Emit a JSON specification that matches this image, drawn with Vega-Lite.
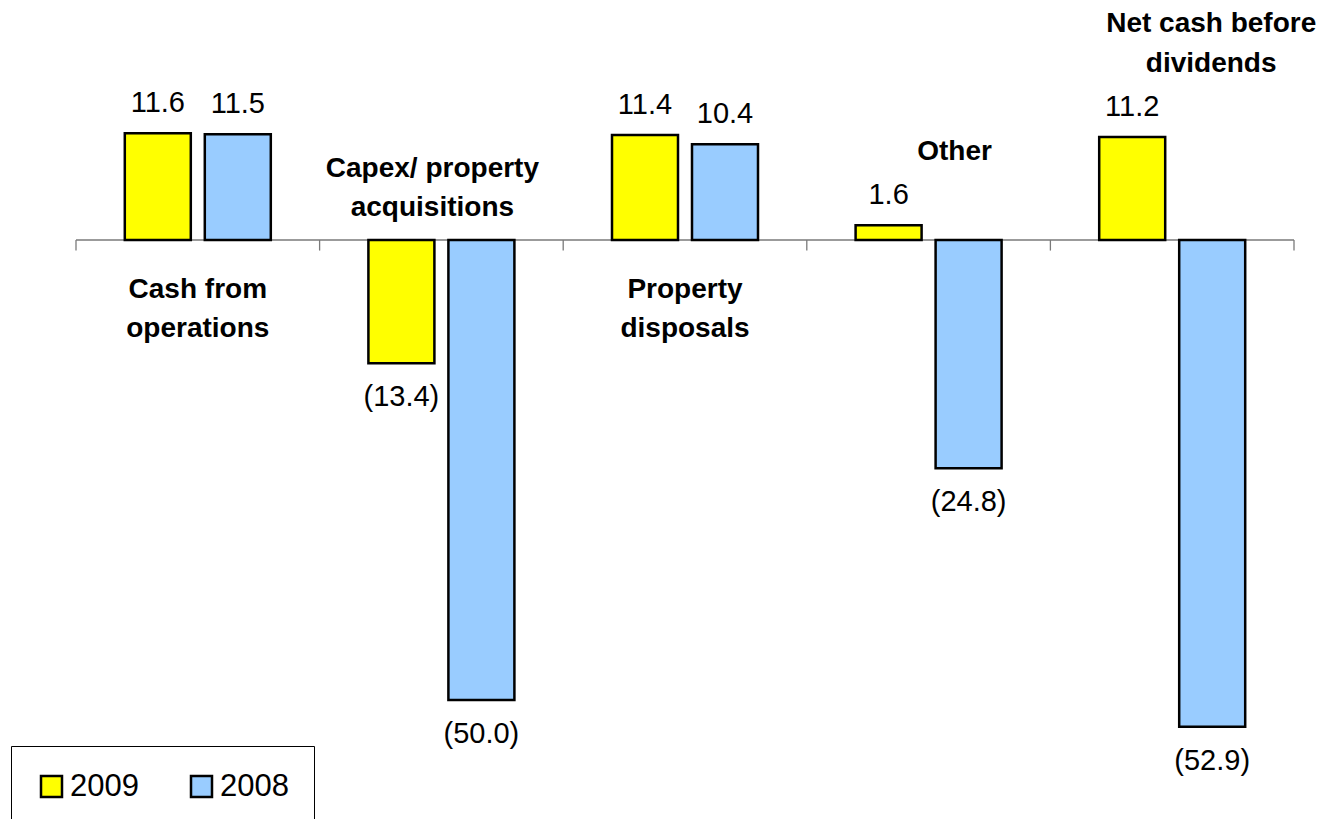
{
  "$schema": "https://vega.github.io/schema/vega-lite/v6.json",
  "width": 1218,
  "height": 782,
  "autosize": "none",
  "padding": {"left": 76, "top": 10, "right": 34, "bottom": 27},
  "background": "white",
  "config": {
    "view": {"stroke": null},
    "text": {"font": "Liberation Sans", "color": "black"},
    "legend": {"labelFont": "Liberation Sans"}
  },
  "datasets": {
    "bars": [
      {"category": "Cash from operations", "year": "2009", "value": 11.6},
      {"category": "Cash from operations", "year": "2008", "value": 11.5},
      {"category": "Capex/ property acquisitions", "year": "2009", "value": -13.4},
      {"category": "Capex/ property acquisitions", "year": "2008", "value": -50.0},
      {"category": "Property disposals", "year": "2009", "value": 11.4},
      {"category": "Property disposals", "year": "2008", "value": 10.4},
      {"category": "Other", "year": "2009", "value": 1.6},
      {"category": "Other", "year": "2008", "value": -24.8},
      {"category": "Net cash before dividends", "year": "2009", "value": 11.2},
      {"category": "Net cash before dividends", "year": "2008", "value": -52.9}
    ],
    "cats": [
      {"category": "Cash from operations", "label": "Cash from\noperations"},
      {"category": "Capex/ property acquisitions", "label": "Capex/ property\nacquisitions"},
      {"category": "Property disposals", "label": "Property\ndisposals"},
      {"category": "Other", "label": "Other"},
      {"category": "Net cash before dividends", "label": "Net cash before\ndividends"}
    ]
  },
  "layer": [
    {
      "data": {"values": [{"zero": 0}]},
      "mark": {"type": "rule", "color": "#7a7a7a", "strokeWidth": 1.3},
      "encoding": {
        "y": {"field": "zero", "type": "quantitative", "scale": {"domain": [-60, 25], "nice": false, "zero": false}, "axis": null}
      }
    },
    {
      "data": {"name": "cats"},
      "mark": {"type": "rule", "color": "#7a7a7a", "strokeWidth": 1.3},
      "encoding": {
        "x": {
          "field": "category",
          "type": "nominal",
          "sort": null,
          "axis": null,
          "bandPosition": 0,
          "scale": {
            "domain": ["Cash from operations", "Capex/ property acquisitions", "Property disposals", "Other", "Net cash before dividends"],
            "paddingInner": 0,
            "paddingOuter": 0
          }
        },
        "y": {"datum": 0, "type": "quantitative"},
        "y2": {"datum": -1.15}
      }
    },
    {
      "data": {"name": "cats"},
      "transform": [{"filter": "datum.category == 'Net cash before dividends'"}],
      "mark": {"type": "rule", "color": "#7a7a7a", "strokeWidth": 1.3},
      "encoding": {
        "x": {"field": "category", "type": "nominal", "bandPosition": 1},
        "y": {"datum": 0, "type": "quantitative"},
        "y2": {"datum": -1.15}
      }
    },
    {
      "data": {"name": "bars"},
      "mark": {"type": "bar", "stroke": "black", "strokeWidth": 2.5, "strokeJoin": "miter"},
      "encoding": {
        "x": {"field": "category", "type": "nominal"},
        "xOffset": {"field": "year", "type": "nominal", "scale": {"domain": ["2009", "2008"], "paddingInner": 0.175, "paddingOuter": 0.61}},
        "y": {"field": "value", "type": "quantitative"},
        "y2": {"datum": 0},
        "color": {
          "field": "year",
          "type": "nominal",
          "scale": {"domain": ["2009", "2008"], "range": ["#FFFF00", "#99CCFF"]},
          "legend": {
            "title": null,
            "orient": "none",
            "legendX": -65,
            "legendY": 736,
            "direction": "horizontal",
            "strokeColor": "black",
            "padding": 25,
            "columnPadding": 47,
            "labelOffset": 3,
            "labelFontSize": 31,
            "labelColor": "black",
            "symbolType": "square",
            "symbolSize": 441,
            "symbolStrokeColor": "black",
            "symbolStrokeWidth": 2.5,
            "symbolOpacity": 1
          }
        }
      }
    },
    {
      "data": {"name": "bars"},
      "transform": [
        {"filter": "datum.value >= 0"},
        {"calculate": "format(datum.value, '.1f')", "as": "lbl"}
      ],
      "mark": {"type": "text", "fontSize": 29, "baseline": "alphabetic", "dy": -21},
      "encoding": {
        "x": {"field": "category", "type": "nominal"},
        "xOffset": {"field": "year", "type": "nominal"},
        "y": {"field": "value", "type": "quantitative"},
        "text": {"field": "lbl"}
      }
    },
    {
      "data": {"name": "bars"},
      "transform": [
        {"filter": "datum.value < 0"},
        {"calculate": "'(' + format(-datum.value, '.1f') + ')'", "as": "lbl"}
      ],
      "mark": {"type": "text", "fontSize": 29, "baseline": "alphabetic", "dy": 43},
      "encoding": {
        "x": {"field": "category", "type": "nominal"},
        "xOffset": {"field": "year", "type": "nominal"},
        "y": {"field": "value", "type": "quantitative"},
        "text": {"field": "lbl"}
      }
    },
    {
      "data": {"name": "cats"},
      "transform": [{"filter": "datum.category == 'Cash from operations' || datum.category == 'Property disposals'"}],
      "mark": {"type": "text", "fontSize": 28, "fontWeight": "bold", "baseline": "alphabetic", "lineBreak": "\n", "lineHeight": 39, "dy": 58},
      "encoding": {
        "x": {"field": "category", "type": "nominal"},
        "y": {"datum": 0, "type": "quantitative"},
        "text": {"field": "label"}
      }
    },
    {
      "data": {"name": "cats"},
      "transform": [{"filter": "datum.category == 'Capex/ property acquisitions'"}],
      "mark": {"type": "text", "fontSize": 28, "fontWeight": "bold", "baseline": "alphabetic", "lineBreak": "\n", "lineHeight": 39, "dy": -63, "dx": -9},
      "encoding": {
        "x": {"field": "category", "type": "nominal"},
        "y": {"datum": 0, "type": "quantitative"},
        "text": {"field": "label"}
      }
    },
    {
      "data": {"name": "cats"},
      "transform": [{"filter": "datum.category == 'Other'"}],
      "mark": {"type": "text", "fontSize": 28, "fontWeight": "bold", "baseline": "alphabetic", "dy": -80, "dx": 26},
      "encoding": {
        "x": {"field": "category", "type": "nominal"},
        "y": {"datum": 0, "type": "quantitative"},
        "text": {"field": "label"}
      }
    },
    {
      "data": {"name": "cats"},
      "transform": [{"filter": "datum.category == 'Net cash before dividends'"}],
      "mark": {"type": "text", "fontSize": 28, "fontWeight": "bold", "baseline": "alphabetic", "lineBreak": "\n", "lineHeight": 40, "dy": -208, "dx": 39},
      "encoding": {
        "x": {"field": "category", "type": "nominal"},
        "y": {"datum": 0, "type": "quantitative"},
        "text": {"field": "label"}
      }
    }
  ]
}
